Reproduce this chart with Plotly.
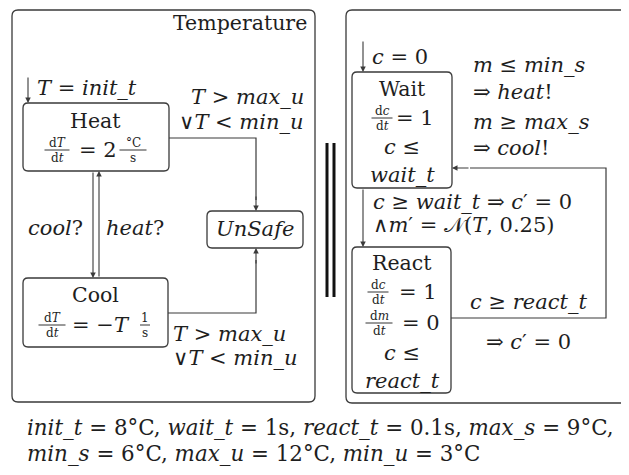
import plotly.graph_objects as go

W, H = 629, 475
OFF = 8  # default page body margin
FONT = "DejaVu Serif, serif"
INK = "#1e1e1e"
LINE = "#3a3a3a"

# ---- text content ----
panel_titles = ["Temperature", "Controller"]
state_names = ["Heat", "Cool", "<i>UnSafe</i>", "Wait", "React"]
init_labels = ["<i>T</i> = <i>init_t</i>", "<i>c</i> = 0"]
sync_labels = ["<i>cool</i>?", "<i>heat</i>?"]
unsafe_guard = ["<i>T</i> &gt; <i>max_u</i>", "∨<i>T</i> &lt; <i>min_u</i>"]
wait_guards = ["<i>m</i> ≤ <i>min_s</i>", "⇒ <i>heat</i>!", "<i>m</i> ≥ <i>max_s</i>", "⇒ <i>cool</i>!"]
wait_react_update = ["<i>c</i> ≥ <i>wait_t</i> ⇒ <i>c</i>′ = 0", "∧<i>m</i>′ = 𝒩(<i>T</i>, 0.25)"]
react_wait_update = ["<i>c</i> ≥ <i>react_t</i>", "⇒ <i>c</i>′ = 0"]
flow_heat = ["d<i>T</i>", "d<i>t</i>", "= 2", "°C", "s"]
flow_cool = ["d<i>T</i>", "d<i>t</i>", "= −<i>T</i>", "1", "s"]
flow_clock = ["d<i>c</i>", "d<i>t</i>", "= 1"]
flow_meas = ["d<i>m</i>", "d<i>t</i>", "= 0"]
wait_inv = ["<i>c</i> ≤", "<i>wait_t</i>"]
react_inv = ["<i>c</i> ≤", "<i>react_t</i>"]
constants = [
    "<i>init_t</i> = 8°C, <i>wait_t</i> = 1s, <i>react_t</i> = 0.1s, <i>max_s</i> = 9°C,",
    "<i>min_s</i> = 6°C, <i>max_u</i> = 12°C, <i>min_u</i> = 3°C",
]

shapes = []
annots = []


def rbox(x0, y0, x1, y1, r=5, width=1.3):
    p = (f"M {x0+r},{y0} L {x1-r},{y0} Q {x1},{y0} {x1},{y0+r} "
         f"L {x1},{y1-r} Q {x1},{y1} {x1-r},{y1} L {x0+r},{y1} "
         f"Q {x0},{y1} {x0},{y1-r} L {x0},{y0+r} Q {x0},{y0} {x0+r},{y0} Z")
    shapes.append(dict(type="path", path=p, line=dict(color=LINE, width=width),
                       fillcolor="rgba(0,0,0,0)", layer="above"))


def poly(points, width=1.2, color=LINE):
    p = "M " + " L ".join(f"{x},{y}" for x, y in points)
    shapes.append(dict(type="path", path=p, line=dict(color=color, width=width), layer="above"))


def arrow(tail, tip):
    annots.append(dict(x=tip[0], y=tip[1], ax=tail[0], ay=tail[1], xref="x", yref="y",
                       axref="x", ayref="y", text="", showarrow=True, arrowhead=2,
                       arrowsize=1.0, arrowwidth=1.1, arrowcolor=LINE, standoff=0,
                       startstandoff=0))


def text(x, y, s, size=21, anchor="center"):
    annots.append(dict(x=x, y=y, xref="x", yref="y", text=s, showarrow=False,
                       xanchor=anchor, yanchor="middle", borderpad=0,
                       font=dict(family=FONT, size=size, color=INK)))


def frac(x, y, num, den, w, size=12):
    shapes.append(dict(type="line", x0=x - w / 2, x1=x + w / 2, y0=y, y1=y,
                       line=dict(color=INK, width=0.9), layer="above"))
    text(x, y - 7, num, size=size)
    text(x, y + 8, den, size=size)


# ---- panels ----
rbox(12, 10, 315, 402, r=6)
rbox(346, 10, 645, 403, r=6)
text(308, 23, panel_titles[0], size=20.5, anchor="right")
text(635, 27, panel_titles[1], size=20.5, anchor="right")

# parallel composition bars
shapes.append(dict(type="line", x0=327, x1=327, y0=143, y1=297, line=dict(color="#111", width=3)))
shapes.append(dict(type="line", x0=334, x1=334, y0=143, y1=297, line=dict(color="#111", width=3)))

# ---- Temperature automaton ----
rbox(23, 103, 169, 171, r=5)   # Heat
rbox(23, 278, 168, 347, r=5)   # Cool
rbox(207, 211, 303, 248, r=5)  # UnSafe

text(95, 121, state_names[0], size=20.5)
frac(57, 150, flow_heat[0], flow_heat[1], 25)
text(78, 150, flow_heat[2], anchor="left")
frac(133, 150, flow_heat[3], flow_heat[4], 27)

text(95, 295, state_names[1], size=20.5)
frac(52, 325, flow_cool[0], flow_cool[1], 27)
text(71, 325, flow_cool[2], anchor="left")
frac(145, 325, flow_cool[3], flow_cool[4], 10)

text(255, 229, state_names[2])

# initial arrow
arrow((28, 76), (28, 103))
text(36, 88, init_labels[0], anchor="left")

# Heat <-> Cool
arrow((93, 171), (93, 278))
arrow((99, 278), (99, 171))
text(84, 228, sync_labels[0], anchor="right")
text(105, 228, sync_labels[1], anchor="left")

# Heat -> UnSafe
poly([(169, 138), (256, 138), (256, 200)])
arrow((256, 195), (256, 211))
text(305, 97, unsafe_guard[0], anchor="right")
text(305, 122, unsafe_guard[1], anchor="right")

# Cool -> UnSafe
poly([(168, 313), (256, 313), (256, 260)])
arrow((256, 265), (256, 248))
text(172, 334, unsafe_guard[0], anchor="left")
text(172, 358, unsafe_guard[1], anchor="left")

# ---- Controller automaton ----
rbox(352, 72, 452, 188, r=5)   # Wait
rbox(352, 247, 451, 393, r=5)  # React

arrow((363, 40), (363, 72))
text(371, 57, init_labels[1], anchor="left")

text(402, 89, state_names[3], size=20.5)
frac(382, 118, flow_clock[0], flow_clock[1], 21)
text(395, 118, flow_clock[2], anchor="left")
text(402, 147, wait_inv[0])
text(402, 175, wait_inv[1])

for i, s in enumerate(wait_guards):
    text(472, [65, 92, 122, 148][i], s, anchor="left")

arrow((363, 188), (363, 247))
text(372, 202, wait_react_update[0], anchor="left")
text(372, 225, wait_react_update[1], anchor="left")

text(402, 263, state_names[4], size=20.5)
frac(378, 292, flow_clock[0], flow_clock[1], 21)
text(398, 292, flow_clock[2], anchor="left")
frac(379, 323, flow_meas[0], flow_meas[1], 27)
text(401, 323, flow_meas[2], anchor="left")
text(402, 353, react_inv[0])
text(402, 381, react_inv[1])

poly([(451, 318), (606, 318), (606, 168), (470, 168)])
arrow((470, 168), (452, 168))
text(528, 302, react_wait_update[0])
text(528, 342, react_wait_update[1])

# ---- constants ----
text(26, 427, constants[0], size=21.4, anchor="left")
text(26, 453, constants[1], size=21.4, anchor="left")

fig = go.Figure()
fig.update_layout(
    width=W - OFF, height=H - OFF, margin=dict(l=0, r=0, t=0, b=0),
    paper_bgcolor="white", plot_bgcolor="white",
    xaxis=dict(range=[OFF, W], visible=False, fixedrange=True),
    yaxis=dict(range=[H, OFF], visible=False, fixedrange=True),
    shapes=shapes, annotations=annots, showlegend=False,
)
fig.write_html("out.html")
